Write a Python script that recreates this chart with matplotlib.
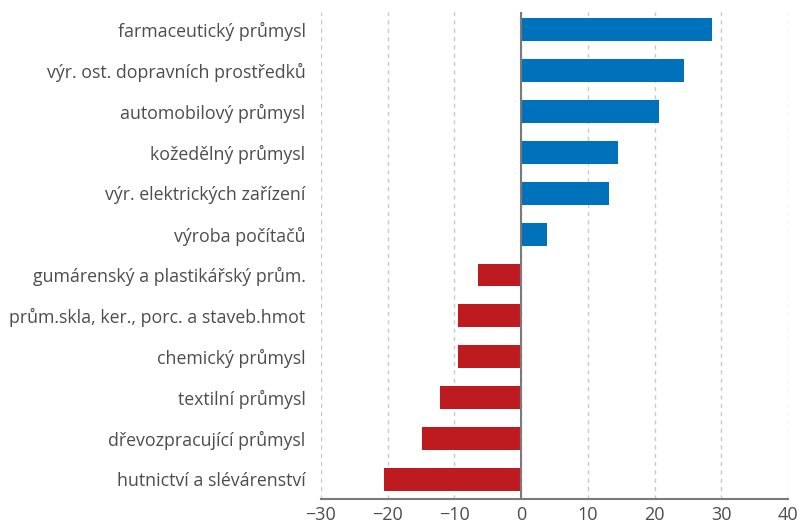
import matplotlib
matplotlib.use("Agg")
import matplotlib.pyplot as plt
import numpy as np

plt.rcParams['font.family'] = ['Open Sans', 'DejaVu Sans']

# Industry labels, top to bottom
categories = [
    "farmaceutický průmysl",
    "výr. ost. dopravních prostředků",
    "automobilový průmysl",
    "kožedělný průmysl",
    "výr. elektrických zařízení",
    "výroba počítačů",
    "gumárenský a plastikářský prům.",
    "prům.skla, ker., porc. a staveb.hmot",
    "chemický průmysl",
    "textilní průmysl",
    "dřevozpracující průmysl",
    "hutnictví a slévárenství",
]
values = [28.6, 24.4, 20.6, 14.6, 13.2, 3.9, -6.4, -9.4, -9.5, -12.2, -14.8, -20.5]
xticks = [-30, -20, -10, 0, 10, 20, 30, 40]

blue = "#0071bb"
red = "#be1b21"
text_col = "#4d4d4d"

fig = plt.figure(figsize=(8, 5.26), dpi=100)
ax = fig.add_axes([0.401, 0.0513, 0.584, 0.9257])

y = np.arange(len(categories))
colors = [blue if v >= 0 else red for v in values]
ax.barh(y, values, height=0.56, color=colors, zorder=3)

ax.set_xlim(-30, 40)
ax.set_ylim(len(categories) - 0.52, -0.43)
ax.set_yticks(y)
ax.set_yticklabels(categories)
ax.set_xticks(xticks)
ax.set_xticklabels([str(t).replace("-", "\u2212") for t in xticks])

ax.tick_params(axis='both', length=0, colors=text_col)
ax.tick_params(axis='y', pad=11, labelsize=12.8)
ax.tick_params(axis='x', pad=5, labelsize=13)

ax.xaxis.grid(True, linestyle=(0, (3, 3)), color="#c8c8c8", linewidth=1, zorder=0)
ax.axvline(0, color="#7a7a7a", linewidth=1.5, zorder=4)

for s in ["top", "right", "left"]:
    ax.spines[s].set_visible(False)
ax.spines["bottom"].set_color("#7a7a7a")
ax.spines["bottom"].set_linewidth(1.5)

plt.savefig("out.png", dpi=100)
